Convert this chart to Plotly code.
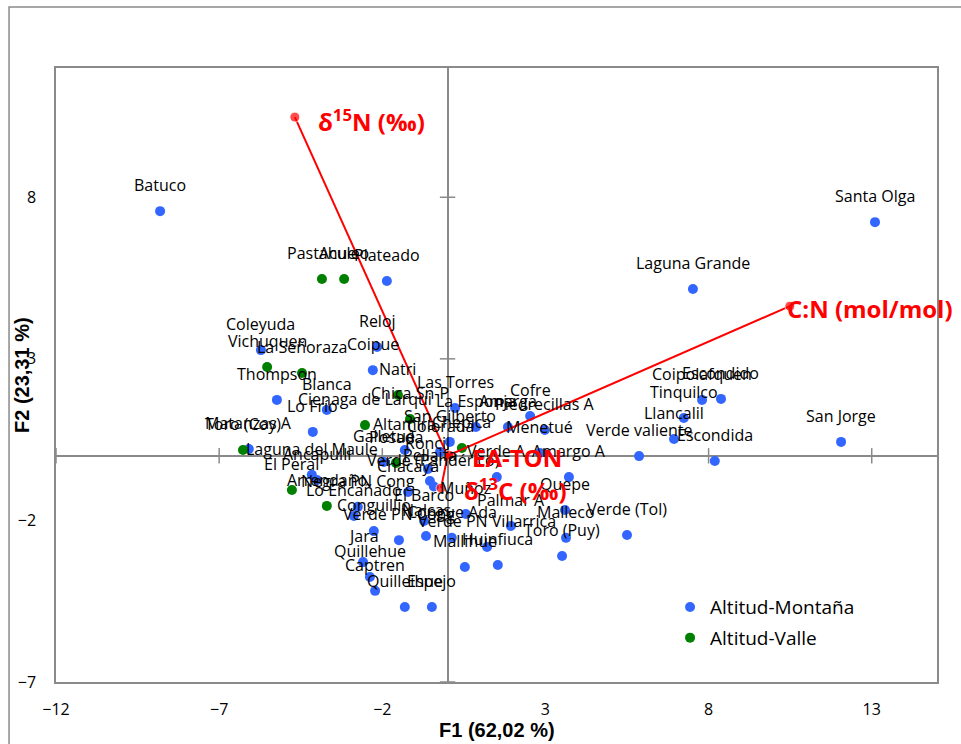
import plotly.graph_objects as go

# PCA scores (F1, F2) of each lake, split by altitude group
montana_names = [
    "Batuco", "Santa Olga", "Laguna Grande", "San Jorge", "Escondida",
    "Llancalil", "Tinquilco", "Coipolafquen", "Escondido", "Verde valiente",
    "Cofre", "Amarga", "Piedrecillas A", "Menetué", "Amargo A", "Verde A",
    "Quepe", "Palmar A", "Malleco", "Verde (Tol)", "Toro (Puy)",
    "Verde PN Villarrica", "Huinfiuca", "Mallihue", "Congue Ada", "Nalcas",
    "El Barco", "Muñoz", "Verde PN Cong", "Conguillio", "Lo Encañado",
    "Negra PN Cong", "Jara", "Quillehue", "Captren", "Quilleihue", "Espejo",
    "Laguna del Maule", "Ancapulli", "Matanzas A", "Lo Frío", "Thompson",
    "Blanca", "Coleyuda", "Reloj", "Coipue", "Plateado", "Las Torres",
    "La Esponja", "Chacaya", "Altamira", "San Gilberto", "Galletué",
    "Roncil", "Pellaifa", "Verde (Pandérico)", "Colorada",
]
montana_f1 = [
    -8.81, 13.10, 7.52, 12.06, 8.19,
    6.94, 7.24, 7.80, 8.38, 5.87,
    2.53, 1.85, 2.98, 2.83, 3.72, 1.51,
    3.60, 1.94, 3.63, 5.50, 3.51,
    1.21, 1.54, 0.53, 0.13, -0.66,
    -0.72, 0.56, -1.49, -2.26, -2.87,
    -2.75, -2.59, -2.38, -2.22, -1.31, -0.48,
    -4.16, -4.00, -6.09, -4.13, -5.23,
    -3.70, -5.72, -2.16, -2.29, -1.86, 0.23,
    0.87, -1.21, -1.31, 0.07, -1.95,
    -0.60, -0.54, -0.42, -0.23,
]
montana_f2 = [
    7.57, 7.23, 5.16, 0.43, -0.16,
    0.52, 1.17, 1.73, 1.76, -0.01,
    1.23, 0.89, 0.80, 0.09, -0.66, -0.66,
    -1.68, -2.17, -2.54, -2.45, -3.10,
    -2.82, -3.38, -3.44, -2.54, -2.48,
    -2.02, -1.80, -2.61, -2.33, -1.86,
    -1.58, -3.29, -3.75, -4.18, -4.68, -4.68,
    -0.59, -0.75, 0.21, 0.74, 1.73,
    1.42, 3.27, 3.37, 2.65, 5.41, 1.48,
    0.89, -1.12, 0.18, 0.43, -0.19,
    -0.41, -0.78, -0.95, 0.12,
]

valle_names = [
    "Pastahue", "Aculeo", "Vichuquen", "La Señoraza", "Natri", "Chica Sn-P",
    "Cienaga de Larqui", "Posada", "Chepica", "Toro (Coy)", "El Peral",
    "Arrendaño",
]
valle_f1 = [-3.85, -3.17, -5.53, -4.46, -1.52, -1.15,
            -2.53, -1.58, 0.44, -6.27, -4.77, -3.70]
valle_f2 = [5.47, 5.47, 2.75, 2.56, 1.88, 1.14,
            0.95, -0.22, 0.24, 0.18, -1.06, -1.55]

# Variable loadings drawn as vectors from the origin
var_names = ["δ<sup>15</sup>N (‰)", "C:N (mol/mol)", "EA-TON", "δ<sup>13</sup>C (‰)"]
var_f1 = [-4.68, 10.49, 0.05, -0.20]
var_f2 = [10.48, 4.63, 0.02, -1.00]

x_ticks = [-12, -7, -2, 3, 8, 13]
y_ticks = [-7, -2, 3, 8]
x_range = [-12, 15]
y_range = [-7, 12]

BLUE = "#3366ff"
GREEN = "#008000"
RED = "#ff0000"
GREY = "#8a8a8a"
LABEL_FONT = dict(family="Open Sans", size=16, color="#000000")

# pixel offsets of the variable captions relative to the vector tip
var_label_shift = {
    "δ<sup>15</sup>N (‰)": (21, -3),
    "C:N (mol/mol)": (-5, -2),
    "EA-TON": (21, -2),
    "δ<sup>13</sup>C (‰)": (21, -1),
}

fig = go.Figure()

# tick crosses sitting on the zero lines
fig.add_trace(go.Scatter(
    x=x_ticks, y=[0] * len(x_ticks), mode="markers",
    marker=dict(symbol="line-ns", size=11, line=dict(color=GREY, width=1.5)),
    hoverinfo="skip", showlegend=False, cliponaxis=False,
))
fig.add_trace(go.Scatter(
    x=[0] * len(y_ticks), y=y_ticks, mode="markers",
    marker=dict(symbol="line-ew", size=11, line=dict(color=GREY, width=1.5)),
    hoverinfo="skip", showlegend=False, cliponaxis=False,
))

fig.add_trace(go.Scatter(
    x=montana_f1, y=montana_f2, mode="markers", name="Altitud-Montaña",
    text=montana_names, marker=dict(color=BLUE, size=10, line=dict(width=0)),
    legend="legend",
))
fig.add_trace(go.Scatter(
    x=valle_f1, y=valle_f2, mode="markers", name="Altitud-Valle",
    text=valle_names, marker=dict(color=GREEN, size=10, line=dict(width=0)),
    legend="legend2",
))

for name, vx, vy in zip(var_names, var_f1, var_f2):
    fig.add_trace(go.Scatter(
        x=[0, vx], y=[0, vy], mode="lines+markers",
        line=dict(color=RED, width=2),
        marker=dict(color=RED, size=[0, 10]),
        hoverinfo="skip", showlegend=False, cliponaxis=False,
    ))

annotations = []
for names, xs, ys in ((montana_names, montana_f1, montana_f2),
                      (valle_names, valle_f1, valle_f2)):
    for n, x, y in zip(names, xs, ys):
        annotations.append(dict(
            x=x, y=y, xref="x", yref="y", text=n, showarrow=False,
            yshift=26, font=LABEL_FONT, xanchor="center", yanchor="middle",
        ))

for name, vx, vy in zip(var_names, var_f1, var_f2):
    dx, dy = var_label_shift[name]
    annotations.append(dict(
        x=vx, y=vy, xref="x", yref="y", text="<b>" + name + "</b>",
        showarrow=False, xanchor="left", yanchor="middle",
        xshift=dx, yshift=dy,
        font=dict(family="Open Sans", size=24, color=RED),
    ))

# axis titles
annotations.append(dict(
    x=0.5, y=-0.078, xref="paper", yref="paper", text="<b>F1 (62,02 %)</b>",
    showarrow=False, xanchor="center", yanchor="middle",
    font=dict(family="Liberation Sans", size=20, color="#000000"),
))
annotations.append(dict(
    x=-0.0386, y=0.5, xref="paper", yref="paper", text="<b>F2 (23,31 %)</b>",
    showarrow=False, xanchor="center", yanchor="middle", textangle=-90,
    font=dict(family="Liberation Sans", size=20, color="#000000"),
))

axis_common = dict(
    showgrid=False, zeroline=True, zerolinecolor=GREY, zerolinewidth=1.5,
    showline=True, mirror=True, linecolor=GREY, linewidth=1.5,
    ticks="outside", tickcolor="rgba(0,0,0,0)",
    tickfont=dict(family="Open Sans", size=16, color="#000000"),
)

legend_common = dict(
    xanchor="left", yanchor="middle", bgcolor="rgba(0,0,0,0)",
    font=dict(family="Open Sans", size=19, color="#000000"),
    borderwidth=0, itemclick=False, itemdoubleclick=False,
)

fig.update_layout(
    width=961, height=744,
    margin=dict(l=56, r=24, t=68, b=62),
    paper_bgcolor="white", plot_bgcolor="white",
    xaxis=dict(range=x_range, tickvals=x_ticks, ticklen=12, **axis_common),
    yaxis=dict(range=y_range, tickvals=y_ticks, ticklen=15, **axis_common),
    annotations=annotations,
    legend=dict(x=0.697, y=0.122, **legend_common),
    legend2=dict(x=0.697, y=0.072, **legend_common),
    shapes=[dict(
        type="rect", xref="paper", yref="paper",
        x0=-0.0533, y0=-0.3, x1=1.2, y1=1.0993,
        line=dict(color=GREY, width=1.5), fillcolor="rgba(0,0,0,0)",
        layer="below",
    )],
    showlegend=True,
)

fig.write_html("out.html")
